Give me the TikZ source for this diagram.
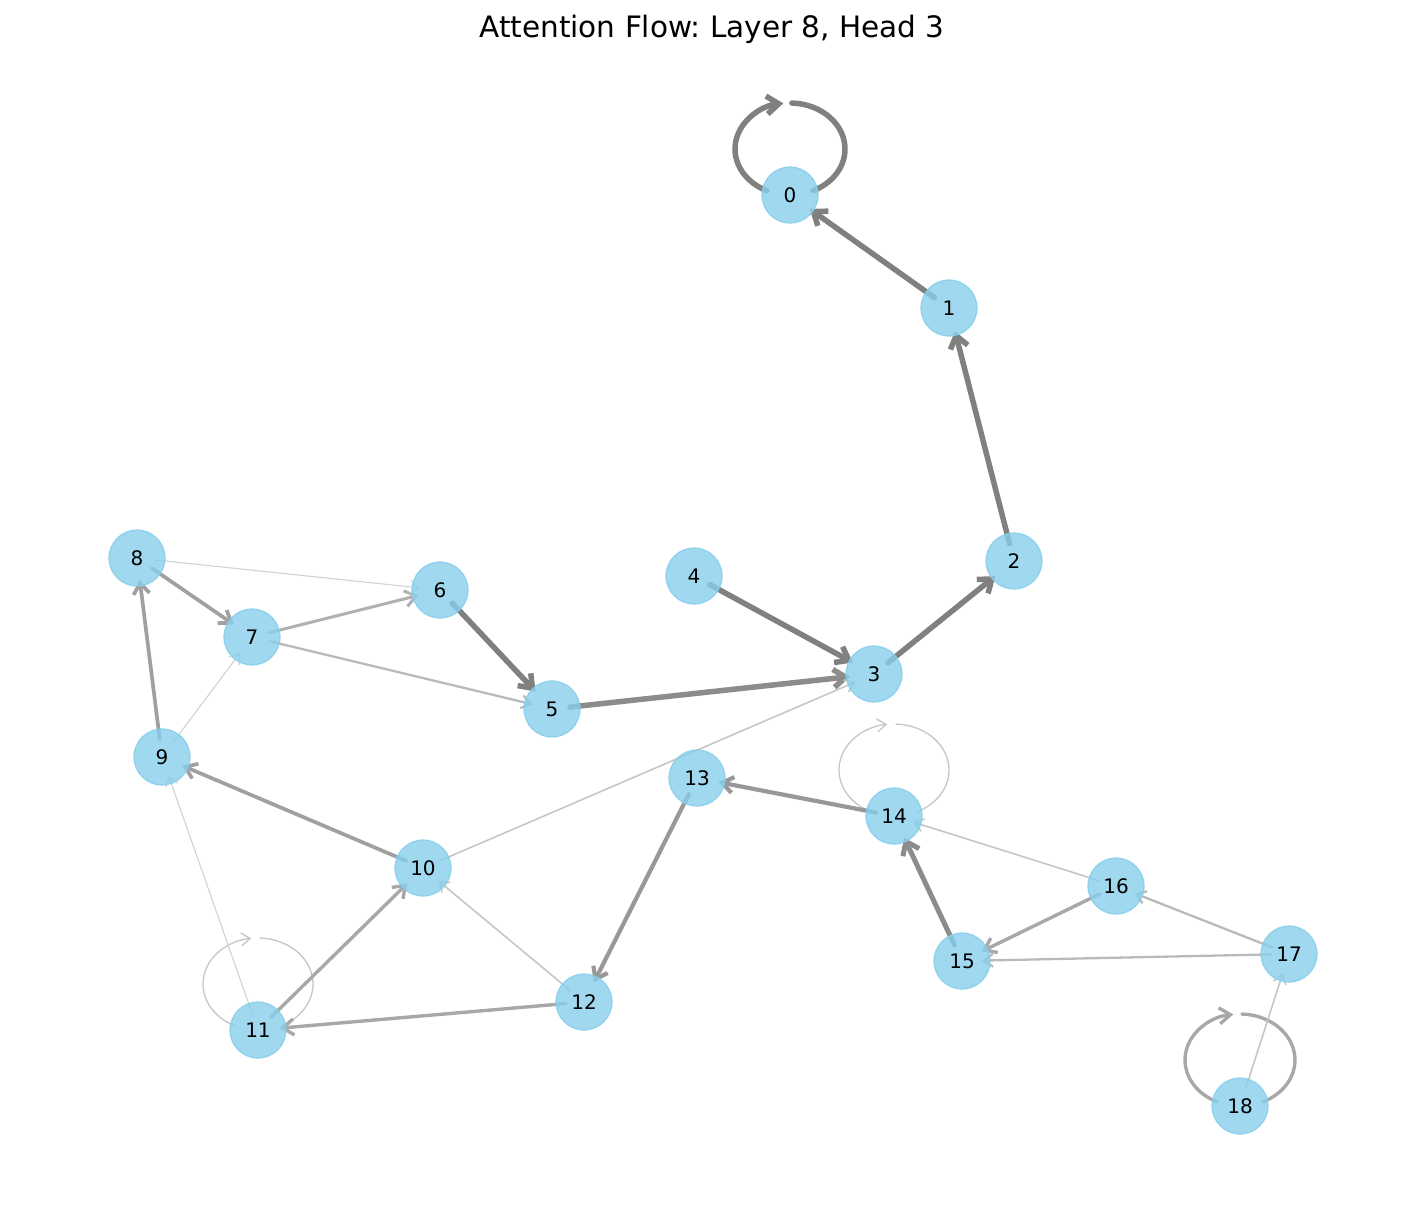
\documentclass[tikz,border=0pt]{standalone}
\usepackage{fontspec}
\setmainfont{DejaVu Sans}
\usetikzlibrary{arrows.meta}
\definecolor{sky}{RGB}{135,206,235}
\definecolor{ga}{RGB}{128,128,128}
\definecolor{gb}{RGB}{140,140,140}
\definecolor{gc}{RGB}{152,152,152}
\definecolor{gd}{RGB}{160,160,160}
\definecolor{ge}{RGB}{168,168,168}
\definecolor{gf}{RGB}{176,176,176}
\definecolor{gg}{RGB}{186,186,186}
\definecolor{gh}{RGB}{198,198,198}
\definecolor{gi}{RGB}{210,210,210}
\pgfdeclarelayer{bg}
\pgfsetlayers{bg,main}
\frenchspacing
\tikzset{
  nd/.style={circle, minimum size=56pt, inner sep=0pt, fill=sky, fill opacity=0.8,
    draw=sky, draw opacity=0.9, line width=1.2pt, text opacity=1,
    font=\fontsize{20}{22}\selectfont},
  edg/.style={line cap=round, line join=round},
  big/.style={edg, -{Straight Barb[length=12pt,width=18pt]}, shorten <=18pt, shorten >=24pt},
  mid/.style={edg, -{Straight Barb[length=11pt,width=16pt]}, shorten <=18pt, shorten >=22pt},
  sml/.style={edg, -{Straight Barb[length=9pt,width=13pt]}, shorten <=18pt, shorten >=20pt},
  wa/.style={big, line width=5.5pt, draw=ga},
  wb/.style={big, line width=5pt, draw=gb},
  wc/.style={mid, line width=4.2pt, draw=gc},
  wd/.style={mid, line width=3.7pt, draw=gd},
  we/.style={mid, line width=3.4pt, draw=ge},
  wf/.style={mid, line width=3pt, draw=gf},
  wg/.style={sml, line width=2.3pt, draw=gg},
  wh/.style={sml, line width=1.6pt, draw=gh},
  wi/.style={sml, line width=1.1pt, draw=gi},
}
\begin{document}
\begin{tikzpicture}[x=1pt,y=-1pt]
\useasboundingbox (0,0) rectangle (1425,1219);
\node[font=\fontsize{29.5}{32}\selectfont, anchor=base] (title) at (712,37) {Attention Flow: Layer 8, Head 3};
\node[nd] (n0) at (790,195) {0};
\node[nd] (n1) at (949,308) {1};
\node[nd] (n2) at (1014,561) {2};
\node[nd] (n3) at (874,674) {3};
\node[nd] (n4) at (694,576) {4};
\node[nd] (n5) at (552,709) {5};
\node[nd] (n6) at (440,590) {6};
\node[nd] (n7) at (252,637) {7};
\node[nd] (n8) at (137,558) {8};
\node[nd] (n9) at (162,757) {9};
\node[nd] (n10) at (423,868) {10};
\node[nd] (n11) at (258,1030) {11};
\node[nd] (n12) at (584,1002) {12};
\node[nd] (n13) at (697,778) {13};
\node[nd] (n14) at (894,816) {14};
\node[nd] (n15) at (962,961) {15};
\node[nd] (n16) at (1116,886) {16};
\node[nd] (n17) at (1289,954) {17};
\node[nd] (n18) at (1240,1106) {18};
\begin{pgfonlayer}{bg}
% self loops
\draw[edg, line width=5.5pt, draw=ga, -{Straight Barb[length=12pt,width=18pt]}]
  (n0.center) ++(0,-46) ++(245:55pt and 46pt) arc[start angle=245, end angle=97, x radius=55pt, y radius=46pt];
\draw[edg, line width=5.5pt, draw=ga]
  (n0.center) ++(0,-46) ++(88:55pt and 46pt) arc[start angle=88, end angle=-65, x radius=55pt, y radius=46pt];
\draw[edg, line width=1.3pt, draw=gh, -{Straight Barb[length=9pt,width=13pt]}]
  (n14.center) ++(0,-46) ++(245:55pt and 46pt) arc[start angle=245, end angle=97, x radius=55pt, y radius=46pt];
\draw[edg, line width=1.3pt, draw=gh]
  (n14.center) ++(0,-46) ++(88:55pt and 46pt) arc[start angle=88, end angle=-65, x radius=55pt, y radius=46pt];
\draw[edg, line width=1.3pt, draw=gh, -{Straight Barb[length=9pt,width=13pt]}]
  (n11.center) ++(0,-46) ++(245:55pt and 46pt) arc[start angle=245, end angle=97, x radius=55pt, y radius=46pt];
\draw[edg, line width=1.3pt, draw=gh]
  (n11.center) ++(0,-46) ++(88:55pt and 46pt) arc[start angle=88, end angle=-65, x radius=55pt, y radius=46pt];
\draw[edg, line width=3.4pt, draw=ge, -{Straight Barb[length=11pt,width=16pt]}]
  (n18.center) ++(0,-46) ++(245:55pt and 46pt) arc[start angle=245, end angle=97, x radius=55pt, y radius=46pt];
\draw[edg, line width=3.4pt, draw=ge]
  (n18.center) ++(0,-46) ++(88:55pt and 46pt) arc[start angle=88, end angle=-65, x radius=55pt, y radius=46pt];
% edges
\draw[wa] (n1.center) -- (n0.center);
\draw[wa] (n2.center) -- (n1.center);
\draw[wa] (n3.center) -- (n2.center);
\draw[wa] (n4.center) -- (n3.center);
\draw[wa] (n6.center) -- (n5.center);
\draw[wa, draw=gb] (n5.center) -- (n3.center);
\draw[wb] (n15.center) -- (n14.center);
\draw[wc] (n13.center) -- (n12.center);
\draw[wc] (n14.center) -- (n13.center);
\draw[wd] (n10.center) -- (n9.center);
\draw[wd] (n9.center) -- (n8.center);
\draw[wd] (n8.center) -- (n7.center);
\draw[we] (n11.center) -- (n10.center);
\draw[we] (n12.center) -- (n11.center);
\draw[we] (n16.center) -- (n15.center);
\draw[wf] (n7.center) -- (n6.center);
\draw[wg] (n7.center) -- (n5.center);
\draw[wg] (n17.center) -- (n16.center);
\draw[wg] (n17.center) -- (n15.center);
\draw[wh] (n18.center) -- (n17.center);
\draw[wh] (n10.center) -- (n3.center);
\draw[wh] (n12.center) -- (n10.center);
\draw[wh] (n16.center) -- (n14.center);
\draw[wi] (n8.center) -- (n6.center);
\draw[wi] (n9.center) -- (n7.center);
\draw[wi] (n11.center) -- (n9.center);
\end{pgfonlayer}
\end{tikzpicture}
\end{document}
